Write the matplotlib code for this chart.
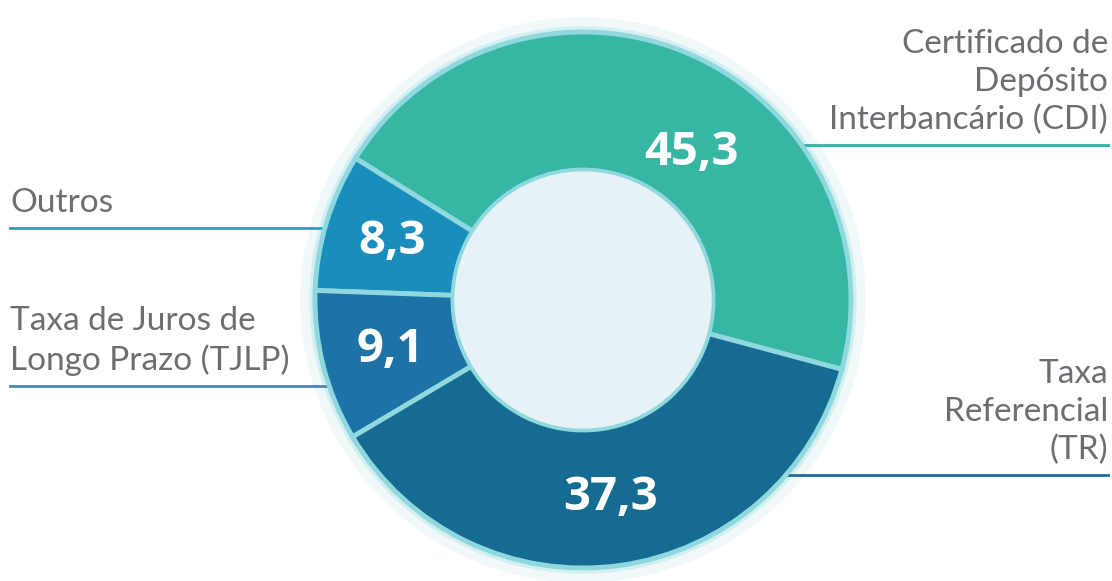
import numpy as np
import matplotlib
matplotlib.use("Agg")
import matplotlib.pyplot as plt
from matplotlib.patches import Circle

# data
categories = ["Certificado de\nDepósito\nInterbancário (CDI)", "Outros",
              "Taxa de Juros de\nLongo Prazo (TJLP)", "Taxa\nReferencial\n(TR)"]
values = [45.3, 8.3, 9.1, 37.3]
value_labels = ["45,3", "8,3", "9,1", "37,3"]
colors = ["#36b6a3", "#1b8dbd", "#1d72a6", "#156b91"]
line_colors = ["#2bb3a0", "#1ba6c5", "#4a86b8", "#1a6e98"]

W, H = 1112, 581
fig = plt.figure(figsize=(W / 100, H / 100), dpi=100)
ax = fig.add_axes([0, 0, 1, 1])

cx, cy = 583, H - 300
r_out, r_in = 268, 130

# soft halo behind the ring
ax.add_patch(Circle((cx, cy), r_out + 14, color="#f0f8f9", zorder=0))
ax.add_patch(Circle((cx, cy), r_out + 5, color="#d3eff1", zorder=0.5))

wedges, _ = ax.pie(values, colors=colors, startangle=-15, counterclock=True,
                   center=(cx, cy), radius=r_out, frame=True,
                   wedgeprops=dict(width=r_out - r_in, edgecolor="#8fd9de", linewidth=3.5))
for w in wedges:
    w.set_zorder(2)
ax.set_xlim(0, W)
ax.set_ylim(0, H)
ax.set_aspect("equal")
ax.axis("off")

ax.add_patch(Circle((cx, cy), r_in - 2, color="#e6f2f5", zorder=3))

# value labels
r_lab = (r_out + r_in) / 2
nudge = [-13, 0, 0, 0]
shrink = [0.92, 1.0, 1.0, 1.0]
for w, lab, dn, s in zip(wedges, value_labels, nudge, shrink):
    ang = np.deg2rad((w.theta1 + w.theta2) / 2 + dn)
    ax.text(cx + s * r_lab * np.cos(ang), cy + s * r_lab * np.sin(ang), lab,
            color="white", fontsize=34, fontweight="bold", family="Open Sans",
            ha="center", va="center", zorder=4)

# category labels with underline
grey = "#6d6e72"
label_lines = {
    0: (H - 145, "right"),
    1: (H - 228, "left"),
    2: (H - 386, "left"),
    3: (H - 475, "right"),
}
for i, (ly, side) in label_lines.items():
    if side == "right":
        ax.plot([cx + 190, 1108], [ly, ly], color=line_colors[i], lw=2, zorder=1)
        ax.text(1108, ly + 10, categories[i], ha="right", va="bottom", color=grey,
                fontsize=24, family="Lato", linespacing=1.32, multialignment="right")
    else:
        ax.plot([10, cx - 240], [ly, ly], color=line_colors[i], lw=2, zorder=1)
        ax.text(10, ly + 10, categories[i], ha="left", va="bottom", color=grey,
                fontsize=24, family="Lato", linespacing=1.32, multialignment="left")

fig.savefig("out.png", dpi=100, facecolor="white")
